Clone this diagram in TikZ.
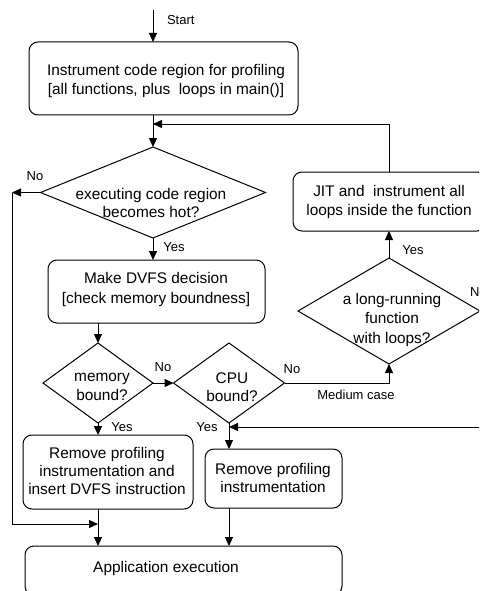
\documentclass[tikz,border=0pt]{standalone}
\usepackage{fontspec}
\setmainfont{Liberation Sans}
\usetikzlibrary{shapes.geometric,arrows.meta}
\begin{document}
\begin{tikzpicture}[x=1pt,y=-1pt,
  every node/.style={inner sep=0pt, outer sep=0pt},
  proc/.style={draw, rounded corners=9pt, line width=1pt},
  dec/.style={draw, diamond, line width=1pt, inner sep=0pt},
  txt/.style={align=center, font=\fontsize{15.4}{18.5}\selectfont},
  lbl/.style={font=\fontsize{13}{15}\selectfont},
  arr/.style={line width=1pt, -{Triangle[length=9pt,width=8pt]}}]
\clip (0,0) rectangle (479,591);
% boxes
\node[proc, minimum width=269, minimum height=73] (top) at (163.5,78.5) {};
\node[txt] (toptxt) at (166,81) {Instrument code region for profiling\\\relax [all functions, plus\ \ loops in main()]};
\node[dec, minimum width=225, minimum height=91] (d1) at (153,192.5) {};
\node[txt] (d1txt) at (151,203) {executing code region\\becomes hot?};
\node[proc, minimum width=217, minimum height=63] (dvfs) at (156.5,291.5) {};
\node[txt, font=\fontsize{15.4}{20}\selectfont] (dvfstxt) at (156,290) {Make DVFS decision\\\relax [check memory boundness]};
\node[dec, minimum width=110, minimum height=80] (mem) at (98,383) {};
\node[txt] (memtxt) at (102,387) {memory\\bound?};
\node[dec, minimum width=111, minimum height=80] (cpu) at (229,383) {};
\node[txt] (cputxt) at (232,387) {CPU\\bound?};
\node[dec, minimum width=182, minimum height=106] (lr) at (389,311) {};
\node[txt, font=\fontsize{15.4}{19.5}\selectfont] (lrtxt) at (392,320) {a long-running\\function\\with loops?};
\node[proc, minimum width=193, minimum height=59] (jit) at (389.5,201.5) {};
\node[txt] (jittxt) at (389,202) {JIT and\ \ instrument all\\loops inside the function};
\node[proc, minimum width=170, minimum height=74] (rem1) at (108,472) {};
\node[txt, font=\fontsize{15.4}{18}\selectfont] (rem1txt) at (107,471) {Remove profiling\\instrumentation and\\insert DVFS instruction};
\node[proc, minimum width=137, minimum height=59] (rem2) at (273.5,478.5) {};
\node[txt] (rem2txt) at (273,478) {Remove profiling\\instrumentation};
\node[proc, minimum width=317, minimum height=49] (app) at (183.5,570.5) {};
\node[txt] (apptxt) at (166,569) {Application execution};
% coordinates
\coordinate (s0) at (153,10);
\coordinate (j1) at (153,124);
\coordinate (L1) at (12,192.5);
\coordinate (j2) at (98,524);
\coordinate (j3) at (229,427);
% connectors
\draw[arr] (s0) -- (s0 |- top.north);
\node[lbl, anchor=west] (lstart) at (167,20) {Start};
\draw[arr] (d1.north |- top.south) -- (d1.north);
\draw[arr] (jit.north) |- (j1);
\draw[arr] (d1.west) -- (L1);
\node[lbl] (lno1) at (35,176) {No};
\draw[arr] (L1) |- (j2);
\draw[arr] (d1.south) -- (dvfs.north -| d1.south);
\node[lbl] (lyes1) at (174,247) {Yes};
\draw[arr] (mem.north |- dvfs.south) -- (mem.north);
\draw[arr] (mem.east) -- (cpu.west);
\node[lbl] (lno2) at (163,367) {No};
\draw[arr] (cpu.east) -| (lr.south);
\node[lbl] (lno3) at (292,369) {No};
\node[lbl] (lmed) at (356,395) {Medium case};
\draw[arr] (lr.north) -- (lr.north |- jit.south);
\node[lbl] (lyes2) at (413,250) {Yes};
\node[lbl, anchor=west] (lno4) at (470,292) {No};
\draw[arr] (lr.east) -- ++(20,0) |- (j3);
\draw[arr] (mem.south) -- (mem.south |- rem1.north);
\node[lbl] (lyes3) at (122,427) {Yes};
\draw[arr] (cpu.south) -- (cpu.south |- rem2.north);
\node[lbl] (lyes4) at (207,427) {Yes};
\draw[arr] (rem1.south -| mem.south) -- (mem.south |- app.north);
\draw[arr] (rem2.south -| cpu.south) -- (cpu.south |- app.north);
\end{tikzpicture}
\end{document}
